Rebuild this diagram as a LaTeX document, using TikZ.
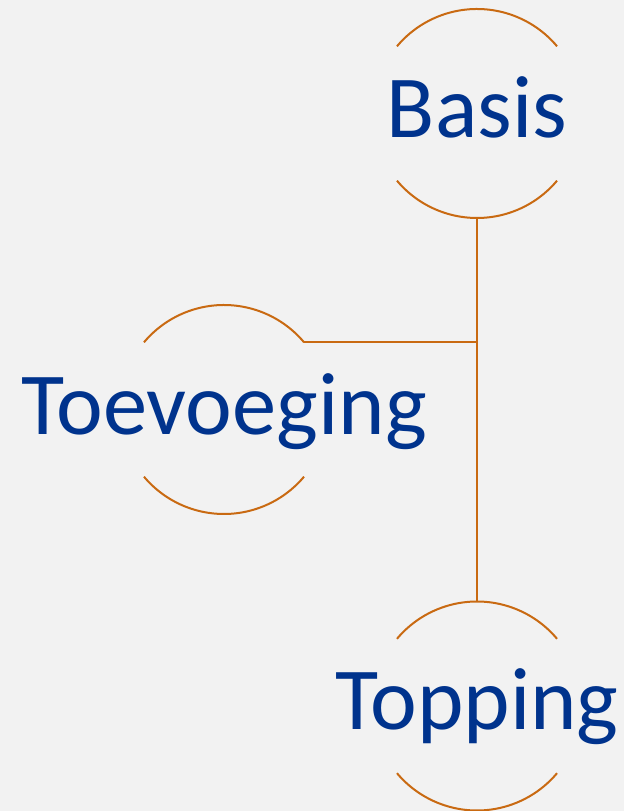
\documentclass[tikz,border=0pt]{standalone}
\usepackage{fontspec}
\setmainfont{Carlito}
\definecolor{arcorange}{RGB}{201,106,18}
\definecolor{labelblue}{RGB}{0,51,141}
\definecolor{bggray}{RGB}{242,242,242}
\begin{document}
\begin{tikzpicture}[x=1pt,y=1pt,
  arcline/.style={draw=arcorange,line width=2pt},
  lbl/.style={font=\fontsize{88.5}{100}\selectfont,text=labelblue,anchor=base,inner sep=0pt}]
\fill[bggray] (0,0) rectangle (624,811);
\useasboundingbox (0,0) rectangle (624,811);
% circle centres
\coordinate (cB) at (477,697.5);
\coordinate (cT) at (224,401.5);
\coordinate (cP) at (477,105);
% labels
\node[lbl] (basis) at (477,673) {Basis};
\node[lbl] (toev) at (224,376) {Toevoeging};
\node[lbl] (topping) at (477,81) {Topping};
% arcs
\foreach \c in {cB,cT,cP}{
  \draw[arcline] (\c) ++(40:104.5) arc[start angle=40,end angle=140,radius=104.5];
  \draw[arcline] (\c) ++(220:104.5) arc[start angle=220,end angle=320,radius=104.5];
}
% connector points
\path (cB) ++(270:104.5) coordinate (bB);
\path (cP) ++(90:104.5) coordinate (tP);
\path (cT) ++(40:104.5) coordinate (eT);
\coordinate (junc) at (eT -| bB);
\draw[arcline] (bB) -- (tP);
\draw[arcline] (eT) -- (junc);
\end{tikzpicture}
\end{document}
